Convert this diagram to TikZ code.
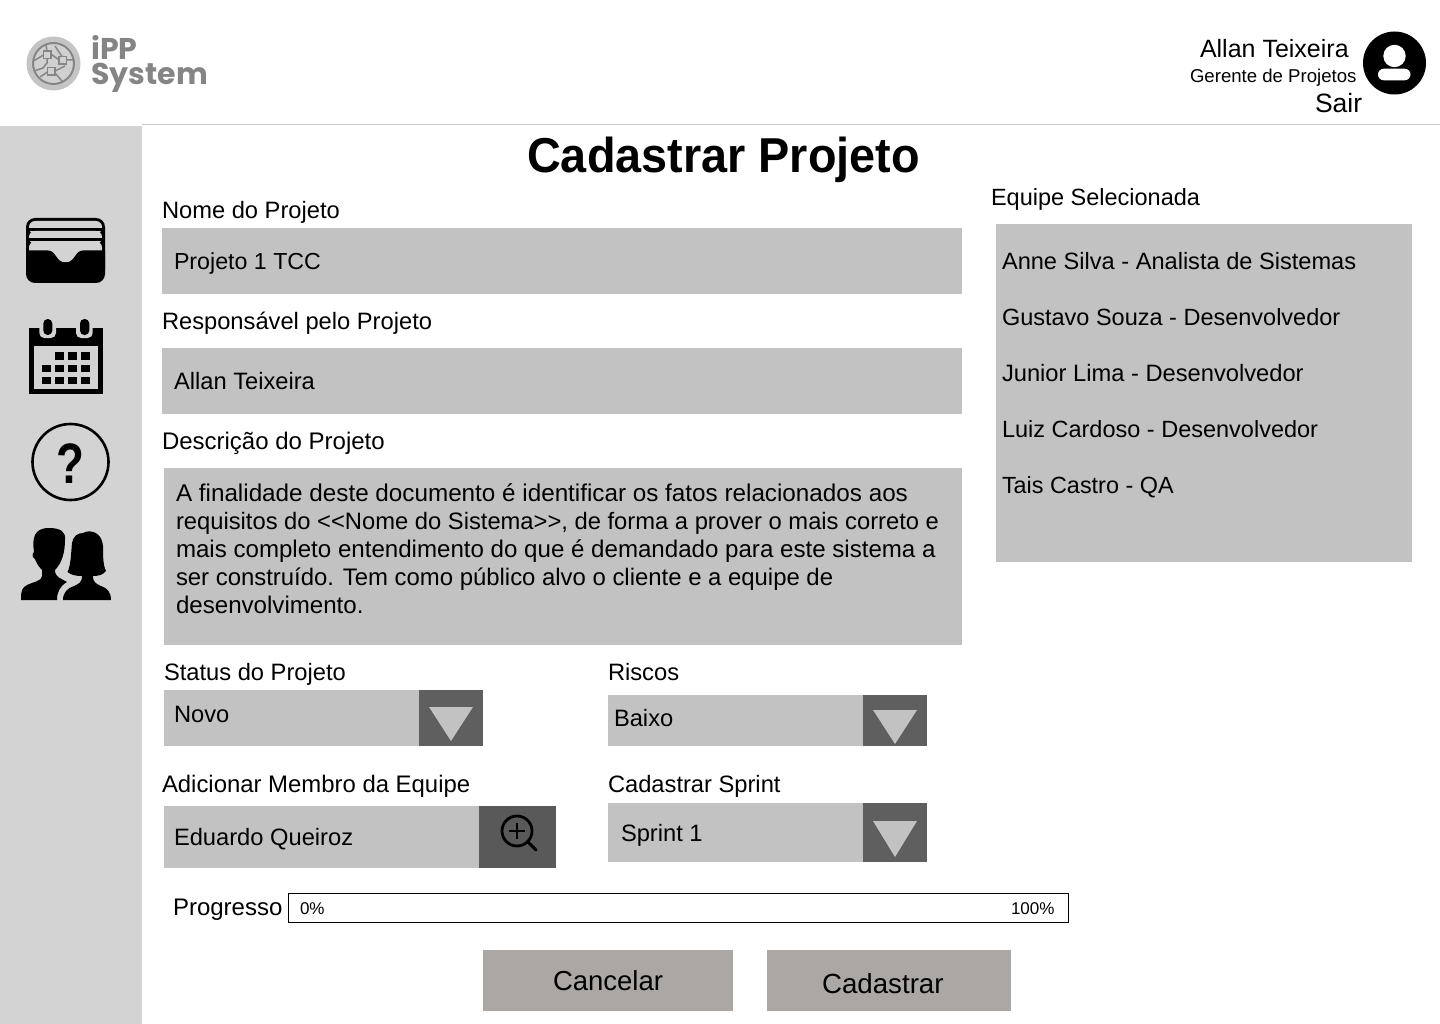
\documentclass[tikz,border=0pt]{standalone}
\usepackage{fontspec}
\setmainfont{Liberation Sans}
\newfontfamily\logofont{Poppins}
\definecolor{side}{HTML}{D3D3D3}
\definecolor{field}{HTML}{C2C2C2}
\definecolor{dark}{HTML}{5F5F5F}
\definecolor{darkb}{HTML}{595959}
\definecolor{btn}{HTML}{ABA7A5}
\definecolor{logog}{HTML}{858585}
\definecolor{logoo}{HTML}{C4C4C4}
\definecolor{logoi}{HTML}{D0D0D0}
\tikzset{x=1pt,y=-1pt,
 lbl/.style={anchor=base west,inner sep=0,outer sep=0,font=\fontsize{23.7}{28}\selectfont,text=black},
 txt/.style={lbl,font=\fontsize{24.1}{28}\selectfont},
 big/.style={lbl,font=\fontsize{27.5}{30}\selectfont},
 sml/.style={lbl,font=\fontsize{18.6}{22}\selectfont},
 tiny/.style={lbl,font=\fontsize{17}{20}\selectfont},
 logotxt/.style={anchor=base west,inner sep=0,text=logog,text depth=0pt,text height=16pt,font=\logofont\bfseries\fontsize{30}{30}\selectfont},
 box/.style={fill=field,draw=none},
 drop/.style={fill=dark,draw=none},
 tri/.style={fill=field,draw=none},
 button/.style={fill=btn,draw=none},
 icon/.style={fill=black,draw=none}}
\begin{document}
\begin{tikzpicture}
\useasboundingbox (0,0) rectangle (1440,1024);
\fill[white] (0,0) rectangle (1440,1024);
\fill[side] (0,126) rectangle (142,1024);
\draw[line width=1.2pt,color=black!22] (142,124.5) -- (1440,124.5);
% logo
\fill[logoo] (53.5,63.5) circle (27);
\fill[logoi] (53.5,63.5) circle (22);
\draw[logog,line width=2pt] (53.5,63.5) circle (20.5);
\draw[logog,line width=1.7pt] (43.5,51) rectangle (51,58.5) (59,56.5) rectangle (66.5,64) (47.5,67.5) rectangle (55,75);
\draw[logog,line width=1.5pt] (33.5,61) -- (43.5,55) (47,58.5) -- (47,63) -- (43,68) -- (34,71) (51,54) -- (59,60) (55,71) -- (65,66) (46,45) -- (47,51) (66.5,60) -- (73,60) (47.5,72) -- (40,77) (55,73) -- (62,81) (55,46) -- (62,56.5);
\node[logotxt] (logoA) at (91,60) {iPP};
\node[logotxt] (logoB) at (91,85) {System};
% header user
\node[lbl,font=\fontsize{25}{28}\selectfont] (user) at (1200,58) {Allan Teixeira};
\node[sml] (role) at (1190,82.5) {Gerente de Projetos};
\node[lbl,font=\fontsize{26.5}{28}\selectfont] (sair) at (1315,112.5) {Sair};
\fill[black] (1394.5,63) circle (31.5);
\fill[white] (1394.5,56) circle (11.2);
\fill[white,rounded corners=5.8pt] (1378,68.7) rectangle (1410.5,80.3);
% title
\node[anchor=base west,inner sep=0,font=\bfseries\fontsize{49}{54}\selectfont\addfontfeature{FakeStretch=0.955}] (title) at (527,173) {Cadastrar Projeto};
% fields
\node[lbl] (l1) at (162,218.6) {Nome do Projeto};
\fill[box] (162,228) rectangle (962,294);
\node[lbl,font=\fontsize{23.2}{28}\selectfont] (v1) at (174,269.6) {Projeto 1 TCC};
\node[lbl] (l2) at (162,329) {Responsável pelo Projeto};
\fill[box] (162,348) rectangle (962,414);
\node[lbl] (v2) at (174,389) {Allan Teixeira};
\node[lbl,font=\fontsize{24}{28}\selectfont] (l3) at (162,449) {Descrição do Projeto};
\fill[box] (164,468) rectangle (962,645);
\node[lbl,font=\fontsize{24.25}{28}\selectfont] (d1) at (176,501) {A finalidade deste documento é identificar os fatos relacionados aos};
\node[lbl,font=\fontsize{23.75}{28}\selectfont] (d2) at (176,529) {requisitos do <{}<Nome do Sistema>{}>, de forma a prover o mais correto e};
\node[txt] (d3) at (176,557) {mais completo entendimento do que é demandado para este sistema a};
\node[lbl,font=\fontsize{23.9}{28}\selectfont] (d4) at (176,585) {ser construído. Tem como público alvo o cliente e a equipe de};
\node[txt] (d5) at (176,613) {desenvolvimento.};
% team
\node[lbl,font=\fontsize{23.5}{28}\selectfont] (t0) at (991,205.6) {Equipe Selecionada};
\fill[box] (996,224) rectangle (1412,562);
\node[lbl,font=\fontsize{23.6}{28}\selectfont] (t1) at (1002,269.6) {Anne Silva - Analista de Sistemas};
\node[lbl,font=\fontsize{23.5}{28}\selectfont] (t2) at (1002,325) {Gustavo Souza - Desenvolvedor};
\node[lbl,font=\fontsize{23.7}{28}\selectfont] (t3) at (1002,381) {Junior Lima - Desenvolvedor};
\node[lbl,font=\fontsize{23.5}{28}\selectfont] (t4) at (1002,437) {Luiz Cardoso - Desenvolvedor};
\node[lbl,font=\fontsize{23.4}{28}\selectfont] (t5) at (1002,493) {Tais Castro - QA};
% status
\node[lbl] (l4) at (164,680) {Status do Projeto};
\fill[box] (164,690) rectangle (419,746);
\fill[drop] (419,690) rectangle (483,746);
\fill[tri] (429,707) -- (473,707) -- (451,741) -- cycle;
\node[lbl] (v4) at (174,722) {Novo};
% riscos
\node[lbl] (l5) at (608,680) {Riscos};
\fill[box] (608,695) rectangle (863,746);
\fill[drop] (863,695) rectangle (927,746);
\fill[tri] (873,710) -- (917,710) -- (895,744) -- cycle;
\node[lbl] (v5) at (614,726) {Baixo};
% add member
\node[lbl,font=\fontsize{23.9}{28}\selectfont] (l6) at (162,792) {Adicionar Membro da Equipe};
\fill[box] (164,806) rectangle (479,868);
\fill[darkb] (479,806) rectangle (556,868);
\node[lbl] (v6) at (174,845) {Eduardo Queiroz};
\draw[black,line width=2.8pt] (517,831) circle (15);
\draw[black,line width=2.8pt] (509,831) -- (525,831) (517,823) -- (517,839);
\draw[black,line width=3pt,line cap=round] (528,842) -- (536,850);
% sprint
\node[lbl] (l7) at (608,792) {Cadastrar Sprint};
\fill[box] (608,803) rectangle (863,862);
\fill[drop] (863,803) rectangle (927,862);
\fill[tri] (873,821) -- (917,821) -- (895,857) -- cycle;
\node[lbl] (v7) at (621,841) {Sprint 1};
% progress
\node[lbl,font=\fontsize{24}{28}\selectfont] (l8) at (173,915) {Progresso};
\draw[black,line width=1pt,fill=white] (288.5,893.5) rectangle (1068.5,922.5);
\node[tiny] (p0) at (300,914) {0\%};
\node[tiny] (p1) at (1011,914) {100\%};
% buttons
\fill[button] (483,950) rectangle (733,1011);
\node[big] (b1) at (553,990) {Cancelar};
\fill[button] (767,950) rectangle (1011,1011);
\node[big,font=\fontsize{27.7}{30}\selectfont] (b2) at (822,993) {Cadastrar};
% wallet icon
\fill[black,rounded corners=9pt] (26,218) rectangle (105,283);
\fill[side,rounded corners=6pt] (29,221) rectangle (102,234);
\fill[black] (29,228) rectangle (102,231);
\fill[side,rounded corners=6pt] (29,231) rectangle (102,244);
\fill[black] (29,238.5) rectangle (102,241.5);
\fill[side,rounded corners=6pt] (29,241.5) rectangle (102,262.5);
\path[icon] (26,250.5) -- (48,250.5) .. controls (56,250.5) and (56,262.5) .. (65.5,262.5) .. controls (75,262.5) and (75,250.5) .. (83,250.5) -- (105,250.5) -- (105,270) -- (26,270) -- cycle;
% calendar icon
\fill[black] (29,328) rectangle (103,394);
\fill[side] (34.3,346) rectangle (97.7,389);
\foreach \r/\c in {1/2,1/3,1/4,2/1,2/2,2/3,2/4,3/1,3/2,3/3,3/4}
 \fill[black] ({42.3+(\c-1)*13},{352.3+(\r-1)*12.2}) rectangle +(8.4,7.5);
\fill[side,rounded corners=5pt] (39.3,316) rectangle (56,338);
\fill[side,rounded corners=5pt] (76,316) rectangle (92.7,338);
\fill[black,rounded corners=4.4pt] (43.3,319) rectangle (52.3,335);
\fill[black,rounded corners=4.4pt] (80,319) rectangle (89.3,335);
% help icon
\draw[black,line width=2.6pt] (70.5,462) circle (38);
\node[anchor=base,inner sep=0,font=\bfseries\fontsize{57}{60}\selectfont\addfontfeature{FakeStretch=0.8}] (help) at (70.5,483) {?};
% people icon
\path[icon] (21,600) .. controls (21,590) and (22,588) .. (27,585) .. controls (33,582) and (42,581) .. (42,576) -- (42,570)
 .. controls (38,566) and (36,562) .. (35,559) .. controls (32,558) and (32,553) .. (34,552) .. controls (32,538) and (34,528) .. (49,528)
 .. controls (61,528) and (66,532) .. (65,540) .. controls (65,552) and (62,563) .. (55,570) .. controls (55,577) and (60,578) .. (67,582)
 .. controls (60,586) and (57,592) .. (57,600) -- cycle;
\path[icon] (63,600) .. controls (63,592) and (68,588) .. (74,586) .. controls (78,584) and (82,583) .. (82,576)
 .. controls (76,576) and (71,575) .. (67.5,572) .. controls (71,565) and (71,553) .. (72,543) .. controls (73,536) and (78,533) .. (83,533) .. controls (90,529) and (102,532) .. (103,546)
 .. controls (103,556) and (103,565) .. (106,571) .. controls (103,575) and (98,576) .. (93,576) .. controls (93,583) and (97,584) .. (101,586) .. controls (107,588) and (111,592) .. (111,600) -- cycle;
\end{tikzpicture}
\end{document}
